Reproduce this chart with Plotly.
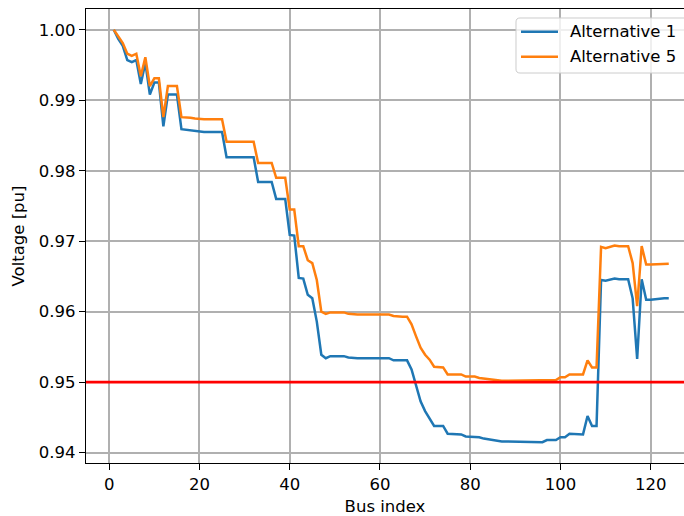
import plotly.graph_objects as go

# Bus voltage profile along the feeder for two planning alternatives
bus_index = list(range(1, 125))

voltage_alt1 = [
    1.0000, 0.9987, 0.9977, 0.9957, 0.9954, 0.9957, 0.9923, 0.9953, 0.9908, 0.9925,
    0.9925, 0.9863, 0.9908, 0.9908, 0.9908, 0.9859, 0.9858, 0.9857, 0.9856, 0.9855,
    0.9855, 0.9855, 0.9855, 0.9855, 0.9855, 0.9819, 0.9819, 0.9819, 0.9819, 0.9819,
    0.9819, 0.9819, 0.9784, 0.9784, 0.9784, 0.9784, 0.9760, 0.9760, 0.9760, 0.9709,
    0.9708, 0.9648, 0.9647, 0.9624, 0.9619, 0.9586, 0.9539, 0.9534, 0.9537, 0.9537,
    0.9537, 0.9537, 0.9535, 0.9534, 0.9534, 0.9534, 0.9534, 0.9534, 0.9534, 0.9534,
    0.9534, 0.9534, 0.9531, 0.9531, 0.9531, 0.9531, 0.9518, 0.9497, 0.9473, 0.9459,
    0.9449, 0.9438, 0.9438, 0.9438, 0.9427, 0.9427, 0.9427, 0.9426, 0.9423, 0.9423,
    0.9423, 0.9422, 0.9420, 0.9419, 0.9418, 0.9416, 0.9416, 0.9416, 0.9416, 0.9416,
    0.9416, 0.9416, 0.9416, 0.9416, 0.9416, 0.9415, 0.9418, 0.9418, 0.9418, 0.9422,
    0.9422, 0.9427, 0.9427, 0.9427, 0.9426, 0.9452, 0.9438, 0.9438, 0.9645, 0.9644,
    0.9646, 0.9647, 0.9646, 0.9646, 0.9646, 0.9619, 0.9533, 0.9646, 0.9617, 0.9617,
    0.9618, 0.9618, 0.9619, 0.9619,
]

voltage_alt5 = [
    1.0000, 0.9990, 0.9981, 0.9966, 0.9963, 0.9966, 0.9934, 0.9961, 0.9920, 0.9931,
    0.9931, 0.9876, 0.9920, 0.9920, 0.9920, 0.9876, 0.9876, 0.9875, 0.9874, 0.9873,
    0.9873, 0.9873, 0.9873, 0.9873, 0.9873, 0.9841, 0.9841, 0.9841, 0.9841, 0.9841,
    0.9841, 0.9841, 0.9811, 0.9811, 0.9811, 0.9811, 0.9790, 0.9790, 0.9790, 0.9745,
    0.9745, 0.9693, 0.9693, 0.9673, 0.9669, 0.9645, 0.9600, 0.9597, 0.9599, 0.9599,
    0.9599, 0.9599, 0.9597, 0.9596, 0.9596, 0.9596, 0.9596, 0.9596, 0.9596, 0.9596,
    0.9596, 0.9596, 0.9594, 0.9593, 0.9593, 0.9593, 0.9582, 0.9565, 0.9549, 0.9539,
    0.9532, 0.9522, 0.9522, 0.9521, 0.9511, 0.9511, 0.9511, 0.9511, 0.9508, 0.9508,
    0.9508, 0.9506, 0.9505, 0.9504, 0.9503, 0.9502, 0.9502, 0.9502, 0.9502, 0.9502,
    0.9502, 0.9502, 0.9502, 0.9502, 0.9502, 0.9502, 0.9503, 0.9503, 0.9503, 0.9507,
    0.9507, 0.9511, 0.9511, 0.9511, 0.9511, 0.9531, 0.9521, 0.9521, 0.9692, 0.9690,
    0.9692, 0.9694, 0.9693, 0.9693, 0.9693, 0.9669, 0.9608, 0.9693, 0.9667, 0.9667,
    0.9667, 0.9667, 0.9668, 0.9668,
]

series_names = ["Alternative 1", "Alternative 5"]
series_colors = ["#1f77b4", "#ff7f0e"]

# lower statutory voltage limit
voltage_limit = 0.95

FONT = "DejaVu Sans"
FS = 16.5
LINE_W = 2.5

# plot-area geometry in pixels (used to lay out the legend box)
W, H = 684, 516
M_L, M_R, M_T, M_B = 86, 0, 9, 53
PW, PH = W - M_L - M_R, H - M_T - M_B


def px_to_paper(px, py):
    return (px - M_L) / PW, (H - M_B - py) / PH


def P(x, y):
    u, v = px_to_paper(x, y)
    return f"{u:.5f},{v:.5f}"


fig = go.Figure()
for name, values, color in zip(series_names, [voltage_alt1, voltage_alt5], series_colors):
    fig.add_trace(go.Scatter(
        x=bus_index, y=values, mode="lines", name=name, showlegend=False,
        line=dict(color=color, width=LINE_W),
    ))

fig.add_shape(
    type="line", xref="paper", x0=0, x1=1, yref="y", y0=voltage_limit, y1=voltage_limit,
    line=dict(color="#ff0000", width=2.7), layer="above",
)

# legend: rounded frame (runs past the right edge), handles and labels
lx0, ly0, lx1, ly1, r = 516, 18, 700, 73, 4
path = (
    f"M {P(lx0 + r, ly0)} L {P(lx1 - r, ly0)} Q {P(lx1, ly0)} {P(lx1, ly0 + r)} "
    f"L {P(lx1, ly1 - r)} Q {P(lx1, ly1)} {P(lx1 - r, ly1)} "
    f"L {P(lx0 + r, ly1)} Q {P(lx0, ly1)} {P(lx0, ly1 - r)} "
    f"L {P(lx0, ly0 + r)} Q {P(lx0, ly0)} {P(lx0 + r, ly0)} Z"
)
fig.add_shape(
    type="path", xref="paper", yref="paper", path=path,
    fillcolor="rgba(255,255,255,0.8)", line=dict(color="#cccccc", width=1), layer="above",
)
row_y = [31.7, 56.7]
for name, color, ry in zip(series_names, series_colors, row_y):
    hx0, hy = px_to_paper(521, ry)
    hx1, _ = px_to_paper(558, ry)
    fig.add_shape(
        type="line", xref="paper", yref="paper", x0=hx0, x1=hx1, y0=hy, y1=hy,
        line=dict(color=color, width=LINE_W), layer="above",
    )
    tx, _ = px_to_paper(567.5, ry)
    fig.add_annotation(
        xref="paper", yref="paper", x=tx, y=hy, xanchor="left", yanchor="middle",
        text=name, showarrow=False, font=dict(family=FONT, size=FS, color="black"),
    )

axis_common = dict(
    showgrid=True, gridcolor="#b0b0b0", gridwidth=1.6,
    zeroline=False, showline=True, linecolor="black", linewidth=1.3,
    ticks="outside", ticklen=6, tickwidth=1.3, tickcolor="black",
    tickfont=dict(family=FONT, size=FS, color="black"),
)

fig.update_xaxes(
    **axis_common, range=[-5.15, 127.38], tick0=0, dtick=20, mirror=True,
    title=dict(text="Bus index", font=dict(family=FONT, size=FS, color="black"), standoff=8),
)
fig.update_yaxes(
    **axis_common, range=[0.93854, 1.00294], tick0=0.94, dtick=0.01, tickformat=".2f",
    title=dict(text="Voltage [pu]", font=dict(family=FONT, size=FS, color="black"), standoff=10),
)

fig.update_layout(
    width=W, height=H,
    margin=dict(l=M_L, r=M_R, t=M_T, b=M_B),
    plot_bgcolor="white", paper_bgcolor="white",
    font=dict(family=FONT, size=FS, color="black"),
    showlegend=False,
)

fig.write_html("out.html")
